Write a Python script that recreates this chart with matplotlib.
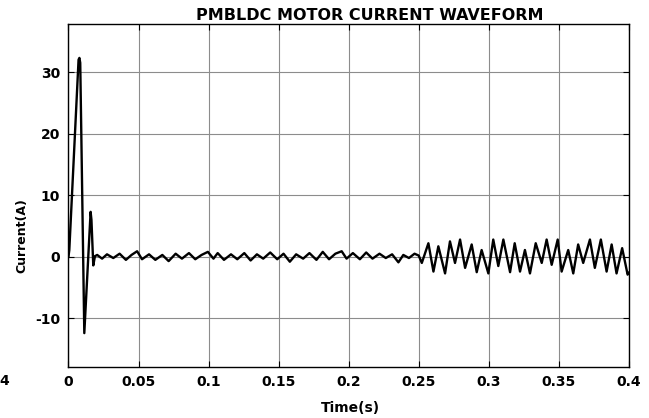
import numpy as np
import matplotlib
matplotlib.use("Agg")
import matplotlib.pyplot as plt

plt.rcParams["axes.unicode_minus"] = False

# startup transient (time in s, current in A)
t_start = [0.0, 0.0006, 0.0072, 0.0078, 0.0084, 0.0113, 0.0158, 0.0164, 0.0177, 0.0189]
i_start = [0.0, 1.1, 32.0, 32.3, 31.5, -12.4, 7.3, 6.0, -1.4, 0.1]

# low ripple, light load
t_low = [0.0205, 0.0240, 0.0275, 0.0320, 0.0365, 0.0410, 0.0450, 0.0490, 0.0525,
         0.0575, 0.0620, 0.0670, 0.0715, 0.0765, 0.0810, 0.0860, 0.0905, 0.0950,
         0.0995, 0.1035, 0.1065, 0.1110, 0.1160, 0.1205, 0.1255, 0.1300, 0.1345,
         0.1390, 0.1440, 0.1490, 0.1535, 0.1580, 0.1625, 0.1675, 0.1720, 0.1770,
         0.1815, 0.1860, 0.1905, 0.1950, 0.1985, 0.2030, 0.2080, 0.2125, 0.2170,
         0.2220, 0.2265, 0.2310, 0.2355, 0.2390, 0.2430, 0.2470]
i_low = [0.3, -0.3, 0.4, -0.2, 0.5, -0.5, 0.3, 0.9, -0.4, 0.4, -0.5, 0.3,
         -0.7, 0.5, -0.3, 0.6, -0.4, 0.3, 0.8, -0.3, 0.6, -0.5, 0.4, -0.4,
         0.6, -0.6, 0.4, -0.3, 0.7, -0.4, 0.5, -0.8, 0.4, -0.3, 0.6, -0.5,
         0.8, -0.4, 0.5, 0.9, -0.3, 0.6, -0.4, 0.7, -0.3, 0.5, -0.2, 0.4,
         -0.9, 0.3, -0.2, 0.5]

# high ripple after load step at 0.25 s
t_high = [0.2500, 0.2522, 0.2569, 0.2605, 0.2640, 0.2688, 0.2723, 0.2759, 0.2795,
          0.2831, 0.2878, 0.2914, 0.2949, 0.2997, 0.3032, 0.3068, 0.3104, 0.3152,
          0.3185, 0.3223, 0.3258, 0.3294, 0.3335, 0.3378, 0.3413, 0.3449, 0.3492,
          0.3520, 0.3567, 0.3603, 0.3638, 0.3674, 0.3722, 0.3757, 0.3800, 0.3841,
          0.3877, 0.3912, 0.3952, 0.3991, 0.4000]
i_high = [0.2, -1.0, 2.2, -2.4, 1.7, -2.7, 2.5, -1.0, 2.8, -1.8, 2.0, -2.5,
          1.1, -2.7, 2.8, -1.5, 2.8, -2.5, 2.2, -2.4, 1.1, -2.7, 2.2, -1.0,
          2.8, -1.3, 2.8, -2.4, 1.1, -2.7, 2.0, -1.0, 2.8, -1.8, 2.8, -2.4,
          2.0, -2.7, 1.4, -2.9, -2.6]

x_ticks = [0, 0.05, 0.1, 0.15, 0.2, 0.25, 0.3, 0.35, 0.4]
x_labels = ["0", "0.05", "0.1", "0.15", "0.2", "0.25", "0.3", "0.35", "0.4"]
y_ticks = [-10, 0, 10, 20, 30]

t = np.array(t_start + t_low + t_high)
cur = np.array(i_start + i_low + i_high)

fig = plt.figure(figsize=(6.49, 4.18), dpi=100)
ax = fig.add_axes([0.1055, 0.122, 0.8635, 0.8205])

ax.plot(t, cur, color="black", linewidth=1.7)

ax.set_xlim(0, 0.4)
ax.set_ylim(-17.9, 37.8)
ax.set_xticks(x_ticks)
ax.set_xticklabels(x_labels)
ax.set_yticks(y_ticks)
ax.grid(True, color="0.55", linewidth=0.8)
ax.tick_params(direction="in", length=4, top=True, right=True, labelsize=10, pad=6)
for lab in ax.get_xticklabels() + ax.get_yticklabels():
    lab.set_fontweight("bold")
for s in ax.spines.values():
    s.set_linewidth(1.0)

fig.text(370 / 649, 1 - 16 / 418, "PMBLDC MOTOR CURRENT WAVEFORM", ha="center", va="center",
         fontsize=11.5, fontweight="bold")
fig.text(350 / 649, 1 - 408 / 418, "Time(s)", ha="center", va="center", fontsize=10, fontweight="bold")
fig.text(22 / 649, 1 - 236 / 418, "Current(A)", ha="center", va="center", rotation=90,
         fontsize=9, fontweight="bold")
fig.text(4 / 649, 1 - 381 / 418, "4", ha="center", va="center", fontsize=10, fontweight="bold")

fig.savefig("out.png", dpi=100)
